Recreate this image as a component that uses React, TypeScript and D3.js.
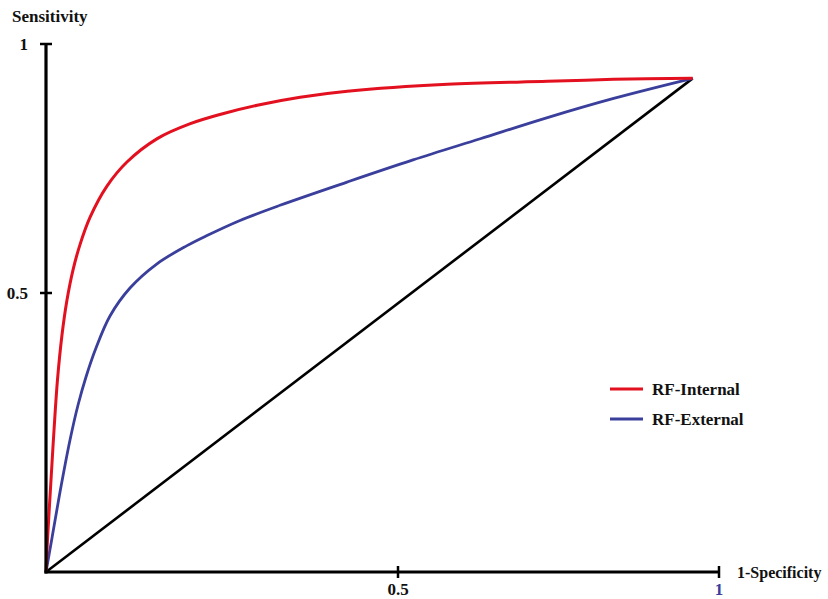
import React from "react";
import * as d3 from "d3";

// ROC curves: [1-specificity, sensitivity]
const rfInternal: [number, number][] = [
  [0, 0], [0.0021, 0.0573], [0.0071, 0.1649], [0.0114, 0.2545], [0.0163, 0.3441],
  [0.0227, 0.4247], [0.0298, 0.4875], [0.0384, 0.5466], [0.0483, 0.5972], [0.0625, 0.6518],
  [0.0866, 0.7146], [0.115, 0.763], [0.158, 0.81], [0.205, 0.84], [0.251, 0.86],
  [0.3, 0.877], [0.361, 0.893], [0.428, 0.905], [0.577, 0.919], [0.733, 0.925],
  [0.836, 0.929], [0.959, 0.931]
];

const rfExternal: [number, number][] = [
  [0, 0], [0.0085, 0.0609], [0.0199, 0.1434], [0.0341, 0.2366], [0.0455, 0.2993],
  [0.0568, 0.3495], [0.071, 0.4014], [0.0909, 0.4588], [0.1193, 0.51], [0.1577, 0.5587],
  [0.2003, 0.5951], [0.2287, 0.6154], [0.2756, 0.6457], [0.3324, 0.6761], [0.4276, 0.7227],
  [0.5234, 0.7672], [0.6281, 0.8097], [0.7328, 0.8522], [0.8359, 0.8907], [0.959, 0.931]
];

const chance: [number, number][] = [[0, 0], [0.959, 0.931]];

const xTicks = [0.5, 1];
const yTicks = [0.5, 1];
const legendNames = ["RF-Internal", "RF-External"];
const colors = ["#e3101f", "#3b3f9c"];

const font = "'Liberation Serif', 'Times New Roman', serif";

const App = () => {
  const width = 828;
  const height = 599;

  // the drawing is not evenly spaced, so both axes are piecewise
  const x = d3.scaleLinear().domain([0, 0.5, 1]).range([46, 398, 719]);
  const y = d3.scaleLinear().domain([0, 0.5, 1]).range([572, 293, 44]);

  const line = d3
    .line<[number, number]>()
    .x(d => x(d[0]))
    .y(d => y(d[1]))
    .curve(d3.curveCatmullRom.alpha(0.5));

  const straight = d3
    .line<[number, number]>()
    .x(d => x(d[0]))
    .y(d => y(d[1]));

  const x0 = x(0);
  const y0 = y(0);

  return (
    <svg
      width={width}
      height={height}
      style={{ position: "absolute", left: 0, top: 0, background: "#fff" }}
      fontFamily={font}
      fontWeight="bold"
    >
      <rect width={width} height={height} fill="#fff" />

      {/* curves */}
      <path d={straight(chance) || ""} fill="none" stroke="#000" strokeWidth={2.6} />
      <path d={line(rfExternal) || ""} fill="none" stroke={colors[1]} strokeWidth={2.8} />
      <path d={line(rfInternal) || ""} fill="none" stroke={colors[0]} strokeWidth={3} />

      {/* y axis */}
      <line x1={x0} x2={x0} y1={y(1)} y2={y0 + 1.5} stroke="#000" strokeWidth={3.2} />
      {yTicks.map(t => (
        <g key={"y" + t}>
          <line x1={x0 - 6} x2={x0 + 6} y1={y(t)} y2={y(t)} stroke="#000" strokeWidth={2.5} />
          <text x={x0 - 18} y={y(t) + 6} textAnchor="end" fontSize={17} fill="#111">
            {t}
          </text>
        </g>
      ))}
      <text x={12} y={22} fontSize={17} fill="#111">Sensitivity</text>

      {/* x axis */}
      <line x1={x0 - 1.5} x2={x(1)} y1={y0} y2={y0} stroke="#000" strokeWidth={3.2} />
      {xTicks.map(t => (
        <g key={"x" + t}>
          <line x1={x(t)} x2={x(t)} y1={y0 - 6} y2={y0 + 6} stroke="#000" strokeWidth={2.5} />
          <text
            x={x(t)}
            y={y0 + 23}
            textAnchor="middle"
            fontSize={17}
            fill={t === 1 ? colors[1] : "#111"}
          >
            {t}
          </text>
        </g>
      ))}
      <text x={737} y={y0 + 6} fontSize={16} fill="#111">1-Specificity</text>

      {/* legend */}
      {legendNames.map((name, i) => (
        <g key={name} transform={`translate(610,${389 + i * 30})`}>
          <line x1={0} x2={33} y1={0} y2={0} stroke={colors[i]} strokeWidth={3} />
          <text x={42} y={6} fontSize={17} fill="#111">{name}</text>
        </g>
      ))}
    </svg>
  );
};

export default App;
